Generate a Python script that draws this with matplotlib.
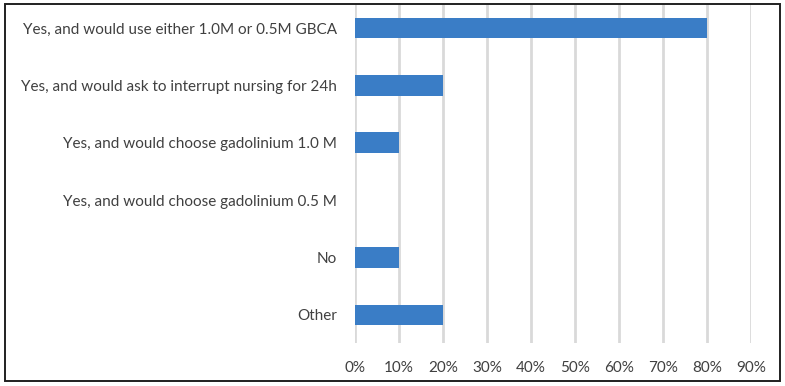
import matplotlib
matplotlib.use("Agg")
import matplotlib.pyplot as plt
from matplotlib.patches import Rectangle
from matplotlib.ticker import FuncFormatter

categories = [
    "Yes, and would use either 1.0M or 0.5M GBCA",
    "Yes, and would ask to interrupt nursing for 24h",
    "Yes, and would choose gadolinium 1.0 M",
    "Yes, and would choose gadolinium 0.5 M",
    "No",
    "Other",
]
values = [0.80, 0.20, 0.10, 0.0, 0.10, 0.20]
xticks = [0, 0.1, 0.2, 0.3, 0.4, 0.5, 0.6, 0.7, 0.8, 0.9]

W, H = 785, 386
fig = plt.figure(figsize=(W / 100, H / 100), dpi=100)
plt.rcParams['font.family'] = ['Lato', 'DejaVu Sans']

left, right, top, bottom = 355, 751, 5, 343
ax = fig.add_axes([left / W, 1 - bottom / H, (right - left) / W, (bottom - top) / H])

ypos = list(range(len(categories)))
ax.barh(ypos, values, height=0.36, color="#3A7DC6", zorder=3)
ax.set_ylim(5.49, -0.4)
ax.set_xlim(0, 0.9)
ax.set_xticks(xticks)
ax.xaxis.set_major_formatter(FuncFormatter(lambda v, p: f"{round(v*100):d}%"))
ax.set_yticks(ypos)
ax.set_yticklabels(categories)
ax.grid(axis="x", color="#D9D9D9", linewidth=2, zorder=0)
ax.grid(axis="y", visible=False)
for s in ax.spines.values():
    s.set_visible(False)
ax.tick_params(axis="both", length=0, colors="#404040", labelsize=11)
ax.tick_params(axis="x", pad=13)
ax.tick_params(axis="y", pad=13)

fig.patches.append(Rectangle((5 / W, 1 - 381 / H), 775 / W, 377 / H,
                             transform=fig.transFigure, fill=False,
                             edgecolor="#202020", linewidth=1.4))

fig.savefig("out.png", dpi=100)
